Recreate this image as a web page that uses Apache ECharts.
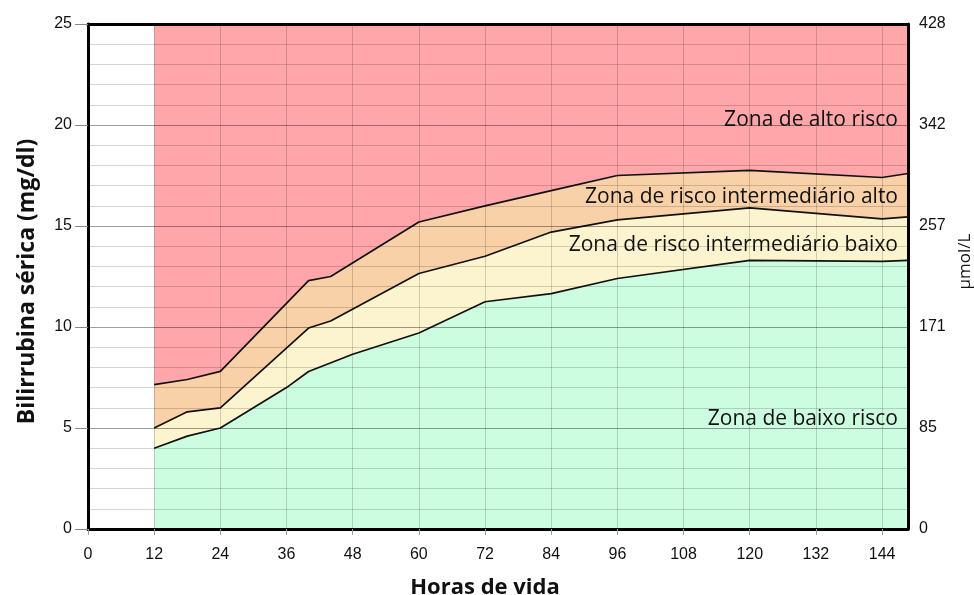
<!DOCTYPE html>
<html>
<head>
<meta charset="utf-8">
<script src="https://cdn.jsdelivr.net/npm/echarts@6/dist/echarts.min.js"></script>
<style>
  html, body { margin: 0; padding: 0; background: #fff; }
  #chart { width: 974px; height: 595px; }
</style>
</head>
<body>
<div id="chart"></div>
<script>
var hoursLow = [12, 18, 24, 36, 40, 48, 60, 72, 84, 96, 120, 144, 148.7];
var lowLine = [4.0, 4.6, 5.0, 7.0, 7.8, 8.65, 9.7, 11.25, 11.65, 12.4, 13.3, 13.25, 13.3];

var hoursMid = [12, 18, 24, 40, 44, 60, 72, 84, 96, 120, 144, 148.7];
var midLine = [5.0, 5.8, 6.0, 9.95, 10.3, 12.65, 13.5, 14.7, 15.3, 15.9, 15.35, 15.45];

var hoursHigh = [12, 18, 24, 40, 44, 60, 72, 84, 96, 120, 144, 148.7];
var highLine = [7.15, 7.4, 7.8, 12.3, 12.5, 15.2, 16.0, 16.75, 17.5, 17.75, 17.4, 17.6];

var hoursTop = [12, 148.7];
var topLine = [25, 25];

var umolLabels = ['0', '85', '171', '257', '342', '428'];
var zoneNames = ['Zona de alto risco', 'Zona de risco intermediário alto',
                 'Zona de risco intermediário baixo', 'Zona de baixo risco'];

function pairs(xs, ys) {
    return xs.map(function (x, i) { return [x, ys[i]]; });
}

var chart = echarts.init(document.getElementById('chart'));

var tickFont = { fontFamily: 'Liberation Sans', fontSize: 16, color: '#111' };
var gridMinor = 'rgba(0,0,0,0.17)';
var gridMajor = 'rgba(0,0,0,0.38)';
var border = { show: true, onZero: false, lineStyle: { color: '#000', width: 3 } };

function titleFont(size, pad) {
    return { fontFamily: 'Open Sans', fontWeight: 'bold', fontSize: size, color: '#111', padding: pad };
}

function area(name, xs, ys, fill, withLine) {
    return {
        name: name,
        type: 'line',
        data: pairs(xs, ys),
        symbol: 'none',
        silent: true,
        lineStyle: withLine ? { color: '#111', width: 1.7 } : { width: 0, opacity: 0 },
        areaStyle: { color: fill, opacity: 1, origin: 'start' }
    };
}

function zoneLabel(text, top) {
    return {
        type: 'text', right: 76, top: top, z: 100,
        style: { text: text, font: '21px "Open Sans"', fill: '#111' }
    };
}

var option = {
    animation: false,
    grid: { left: 88, right: 66, top: 24, bottom: 66, containLabel: false, outerBoundsMode: 'none' },
    xAxis: [{
        type: 'value',
        min: 0, max: 148.7, interval: 12,
        z: 10,
        name: 'Horas de vida',
        nameLocation: 'middle',
        nameGap: 48,
        nameTextStyle: titleFont(22, [0, 26, 0, 0]),
        axisLine: border,
        axisTick: { show: true, length: 6, lineStyle: { color: '#999' } },
        axisLabel: Object.assign({ margin: 18, showMaxLabel: false }, tickFont),
        splitLine: { show: true, lineStyle: { color: gridMinor, width: 1 } }
    }, {
        type: 'value',
        position: 'top',
        min: 0, max: 148.7,
        z: 10,
        axisLine: border,
        axisTick: { show: false },
        axisLabel: { show: false },
        splitLine: { show: false }
    }],
    yAxis: [{
        type: 'value',
        min: 0, max: 25, interval: 5,
        z: 10,
        name: 'Bilirrubina sérica (mg/dl)',
        nameLocation: 'middle',
        nameGap: 49,
        nameTextStyle: titleFont(23, [0, 10, 0, 0]),
        axisLine: border,
        axisTick: { show: true, length: 13, lineStyle: { color: '#888' } },
        axisLabel: Object.assign({ margin: 16 }, tickFont),
        splitLine: { show: true, lineStyle: { color: gridMajor, width: 1 } },
        minorTick: { show: false, splitNumber: 5 },
        minorSplitLine: { show: true, lineStyle: { color: gridMinor, width: 1 } }
    }, {
        type: 'value',
        position: 'right',
        min: 0, max: 25, interval: 5,
        z: 10,
        name: 'μmol/L',
        nameLocation: 'middle',
        nameGap: 39,
        nameRotate: 90,
        nameTextStyle: { fontFamily: 'Open Sans', fontSize: 17, color: '#111', padding: [0, 0, 0, 30] },
        axisLine: border,
        axisTick: { show: false },
        axisLabel: Object.assign({
            margin: 11,
            formatter: function (v) { return umolLabels[Math.round(v / 5)]; }
        }, tickFont),
        splitLine: { show: false }
    }],
    graphic: [
        zoneLabel(zoneNames[0], 110),
        zoneLabel(zoneNames[1], 187),
        zoneLabel(zoneNames[2], 235),
        zoneLabel(zoneNames[3], 409)
    ],
    series: [
        area('alto', hoursTop, topLine, '#ffa6aa', false),
        area('intermediário alto', hoursHigh, highLine, '#f8d1a8', true),
        area('intermediário baixo', hoursMid, midLine, '#fcf3cf', true),
        area('baixo', hoursLow, lowLine, '#cdfde0', true)
    ]
};

chart.setOption(option);
</script>
</body>
</html>
